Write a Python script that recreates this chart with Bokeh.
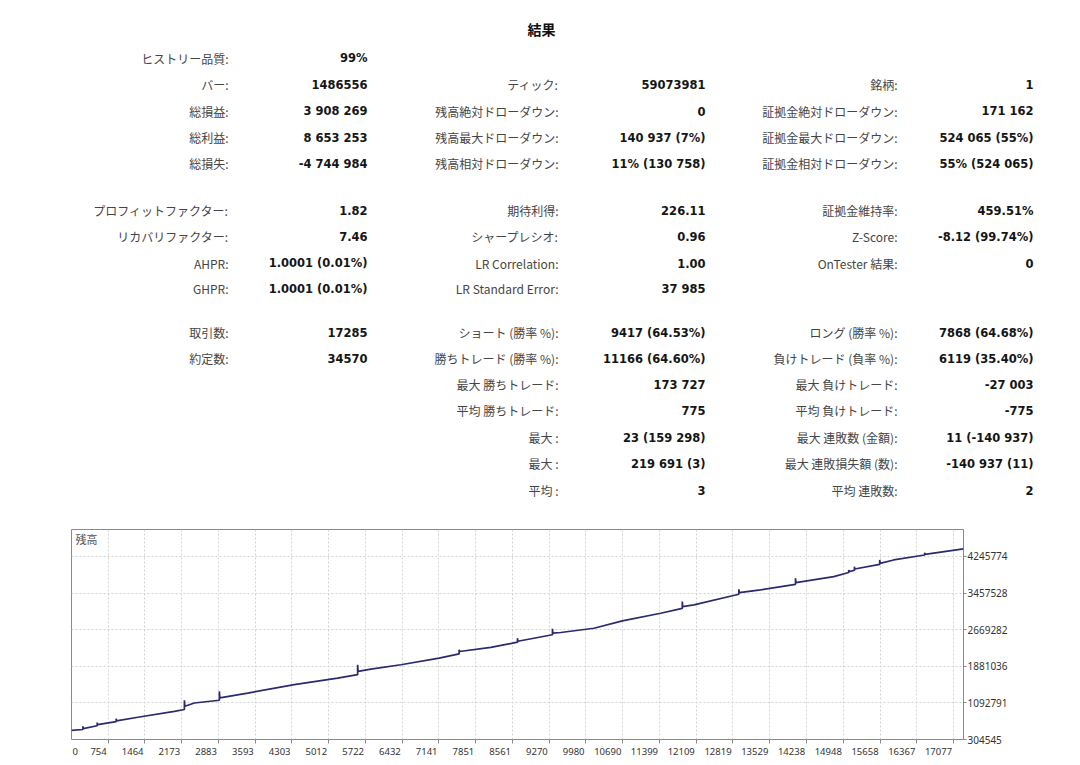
from bokeh.plotting import figure
from bokeh.layouts import column
from bokeh.models import Range1d, FixedTicker, Label, ColumnDataSource
from bokeh.core.properties import value
from bokeh.embed import file_html
from bokeh.resources import INLINE

# ---------------- data ----------------
TITLE = "結果"

# column 1 (row index, label, value)
col1_rows = [0, 1, 2, 3, 4, 5, 6, 7, 8, 9, 10]
col1_labels = ["ヒストリー品質:", "バー:", "総損益:", "総利益:", "総損失:",
               "プロフィットファクター:", "リカバリファクター:", "AHPR:", "GHPR:",
               "取引数:", "約定数:"]
col1_values = ["99%", "1486556", "3 908 269", "8 653 253", "-4 744 984",
               "1.82", "7.46", "1.0001 (0.01%)", "1.0001 (0.01%)",
               "17285", "34570"]

col2_rows = [1, 2, 3, 4, 5, 6, 7, 8, 9, 10, 11, 12, 13, 14, 15]
col2_labels = ["ティック:", "残高絶対ドローダウン:", "残高最大ドローダウン:", "残高相対ドローダウン:",
               "期待利得:", "シャープレシオ:", "LR Correlation:", "LR Standard Error:",
               "ショート (勝率 %):", "勝ちトレード (勝率 %):", "最大 勝ちトレード:", "平均 勝ちトレード:",
               "最大 :", "最大 :", "平均 :"]
col2_values = ["59073981", "0", "140 937 (7%)", "11% (130 758)",
               "226.11", "0.96", "1.00", "37 985",
               "9417 (64.53%)", "11166 (64.60%)", "173 727", "775",
               "23 (159 298)", "219 691 (3)", "3"]

col3_rows = [1, 2, 3, 4, 5, 6, 7, 9, 10, 11, 12, 13, 14, 15]
col3_labels = ["銘柄:", "証拠金絶対ドローダウン:", "証拠金最大ドローダウン:", "証拠金相対ドローダウン:",
               "証拠金維持率:", "Z-Score:", "OnTester 結果:",
               "ロング (勝率 %):", "負けトレード (負率 %):", "最大 負けトレード:", "平均 負けトレード:",
               "最大 連敗数 (金額):", "最大 連敗損失額 (数):", "平均 連敗数:"]
col3_values = ["1", "171 162", "524 065 (55%)", "55% (524 065)",
               "459.51%", "-8.12 (99.74%)", "0",
               "7868 (64.68%)", "6119 (35.40%)", "-27 003", "-775",
               "11 (-140 937)", "-140 937 (11)", "2"]

# balance curve (deal number, balance)
deals = [46, 266, 266, 272, 542, 542, 548, 909, 909, 915, 1327, 2033,
         2226, 2226, 2235, 2419, 2901, 2901, 2910, 3449, 4348, 5185,
         5571, 5571, 5580, 5828, 6406, 7145, 7531, 7531, 7538, 8143,
         8658, 8658, 8664, 9333, 9333, 9340, 9493, 10135, 10683, 11422,
         11840, 11840, 11848, 12064, 12932, 12932, 12940, 13351,
         14026, 14026, 14034, 14766, 15054, 15054, 15060, 15164, 15164, 15170,
         15652, 15652, 15660, 15922, 16520, 16520, 16526, 17270]
balance = [500000, 520000, 590000, 540000, 600000, 670000, 625000, 690000, 755000, 705000, 783000, 912000,
           950000, 1150000, 1020000, 1090000, 1150000, 1340000, 1200000, 1305000, 1486000, 1628000,
           1700000, 1915000, 1770000, 1821000, 1915000, 2057000, 2150000, 2240000, 2200000, 2287000,
           2400000, 2487000, 2420000, 2560000, 2689000, 2594000, 2609000, 2701000, 2860000, 3024000,
           3130000, 3275000, 3168000, 3204000, 3432000, 3539000, 3468000, 3526000,
           3647000, 3775000, 3683000, 3812000, 3900000, 3956000, 3920000, 3950000, 4027000, 3977000,
           4076000, 4171000, 4098000, 4171000, 4278000, 4327000, 4290000, 4408269]

x_tick_values = [754, 1464, 2173, 2883, 3593, 4303, 5012, 5722, 6432, 7141, 7851, 8561,
                 9270, 9980, 10690, 11399, 12109, 12819, 13529, 14238, 14948, 15658, 16367, 17077]
x_tick_labels = [str(v) for v in x_tick_values]
x_start_label = "0"
y_tick_values = [304545, 1092791, 1881036, 2669282, 3457528, 4245774]
y_tick_labels = ["304545", "1092791", "1881036", "2669282", "3457528", "4245774"]
chart_label = "残高"

# ---------------- layout constants ----------------
ROW_Y = [57.5, 84, 110.5, 137, 163, 210, 236, 262.5, 288, 332, 358, 384, 410, 437, 463, 490]
LABEL_RIGHT = [228, 558, 897]
VALUE_RIGHT = [367, 705, 1033]
TOP_H = 515
BL, BR = 71, 117
FRAME_W = 1080 - BL - BR

LABEL_FONT = value("Noto Sans CJK JP")
VALUE_FONT = value("DejaVu Sans")
TICK_COLOR = "#8a8a8a"

# ---------------- top (statistics) ----------------
top = figure(width=1080, height=TOP_H, x_range=Range1d(0, 1080), y_range=Range1d(TOP_H, 0),
             output_backend="svg", toolbar_location=None,
             x_axis_location=None, y_axis_location=None,
             min_border=0, outline_line_color=None)
top.frame_align = False
top.grid.visible = False

top.text(x=[541], y=[28], text=[TITLE], text_font=LABEL_FONT, text_font_style="bold",
         text_font_size="14px", text_align="center", text_baseline="middle", text_color="#111111")

cols = [(col1_rows, col1_labels, col1_values),
        (col2_rows, col2_labels, col2_values),
        (col3_rows, col3_labels, col3_values)]
for i, (rows, labels, vals) in enumerate(cols):
    ys = [ROW_Y[r] for r in rows]
    src_l = ColumnDataSource(dict(x=[LABEL_RIGHT[i]] * len(rows), y=ys, text=labels))
    src_v = ColumnDataSource(dict(x=[VALUE_RIGHT[i]] * len(rows), y=ys, text=vals))
    top.text(x="x", y="y", text="text", source=src_l, text_font=LABEL_FONT,
             text_font_size="12px", text_align="right", text_baseline="middle",
             text_color="#454545")
    top.text(x="x", y="y", text="text", source=src_v, text_font=VALUE_FONT,
             text_font_style="bold", text_font_size="11.5px", text_align="right",
             text_baseline="middle", text_color="#151515")

# ---------------- balance chart ----------------
X0, X1 = 46, 17270
chart = figure(width=1080, height=765 - TOP_H, x_range=Range1d(X0, X1),
               y_range=Range1d(304545, 4827000), y_axis_location="right",
               output_backend="svg", toolbar_location=None,
               min_border_left=BL, min_border_right=BR, min_border_top=14, min_border_bottom=26,
               outline_line_color=TICK_COLOR, background_fill_color="white")
chart.frame_align = False

chart.line(deals, balance, line_color="#2a2a6c", line_width=1.7)

# x axis: real ticks drawn as minor ticks at the deal numbers; the labels are placed
# right-aligned against their tick (MT5 style) by centring them to the left of it.
U = (X1 - X0) / FRAME_W          # deals per pixel
DIGIT_PX = 5.4                   # approx. width of one digit at 9.5px
label_pos = [X0 + (1 + DIGIT_PX * len(x_start_label) / 2) * U] + \
            [v - (1.5 + DIGIT_PX * len(t) / 2) * U for v, t in zip(x_tick_values, x_tick_labels)]
label_txt = [x_start_label] + x_tick_labels

xa = chart.xaxis[0]
xa.ticker = FixedTicker(ticks=label_pos, minor_ticks=x_tick_values)
xa.major_label_overrides = {pos: t for pos, t in zip(label_pos, label_txt)}
xa.axis_line_color = None
xa.major_tick_line_color = None
xa.major_tick_out = 0
xa.major_tick_in = 0
xa.minor_tick_line_color = TICK_COLOR
xa.minor_tick_out = 4
xa.minor_tick_in = 0
xa.major_label_standoff = 4
xa.major_label_text_font = "Noto Sans"
xa.major_label_text_font_size = "9.5px"
xa.major_label_text_color = "#333333"

ya = chart.yaxis[0]
ya.ticker = FixedTicker(ticks=y_tick_values)
ya.major_label_overrides = {v: t for v, t in zip(y_tick_values, y_tick_labels)}
ya.axis_line_color = None
ya.major_tick_line_color = TICK_COLOR
ya.major_tick_out = 3
ya.major_tick_in = 0
ya.minor_tick_line_color = None
ya.major_label_standoff = 1
ya.major_label_text_font = "Noto Sans"
ya.major_label_text_font_size = "10px"
ya.major_label_text_color = "#333333"

chart.xgrid.ticker = FixedTicker(ticks=x_tick_values)
chart.ygrid.ticker = FixedTicker(ticks=y_tick_values)
chart.grid.grid_line_color = "#d2d2d2"
chart.grid.grid_line_dash = "2 2"
chart.grid.grid_line_width = 1

chart.add_layout(Label(x=4, y=201, x_units="screen", y_units="screen", text=chart_label,
                       text_align="left", text_baseline="middle",
                       text_font="Noto Sans CJK JP", text_font_size="11px", text_color="#555555"))

p = column(top, chart)
open("out.html", "w").write(file_html(p, INLINE))
